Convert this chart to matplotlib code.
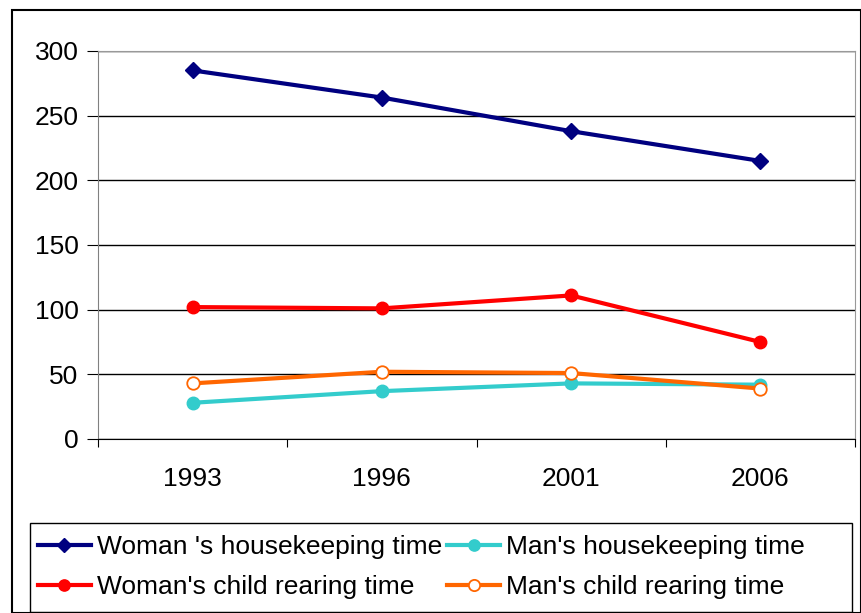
import matplotlib.pyplot as plt
from matplotlib.patches import Rectangle
import numpy as np

plt.rcParams['font.family'] = ['Liberation Sans', 'DejaVu Sans']

years = ['1993', '1996', '2001', '2006']
woman_house = [285, 264, 238, 215]
man_house = [28, 37, 43, 42]
woman_child = [102, 101, 111, 75]
man_child = [43, 52, 51, 39]

W, H = 861, 613
fig = plt.figure(figsize=(W / 100, H / 100), dpi=100)
ax = fig.add_axes([98 / W, 1 - 439 / H, (855 - 98) / W, (439 - 51) / H])

x = np.arange(len(years)) + 0.5
l1, = ax.plot(x, woman_house, color='#000080', lw=3, marker='D', ms=8)
l2, = ax.plot(x, man_house, color='#33CCCC', lw=3, marker='o', ms=9)
l3, = ax.plot(x, woman_child, color='#FF0000', lw=3, marker='o', ms=9)
l4, = ax.plot(x, man_child, color='#FF6600', lw=3, marker='o', ms=9,
              mfc='white', mew=1.3)

ax.set_xlim(0, len(years))
ax.set_ylim(0, 300)
ax.set_yticks(range(0, 301, 50))
ax.set_xticks(np.arange(len(years) + 1))
ax.set_xticklabels([])
ax.set_xticks(x, minor=True)
ax.set_xticklabels(years, minor=True)
ax.tick_params(axis='x', which='minor', length=0, pad=20, labelsize=19)
ax.tick_params(axis='x', which='major', length=6, color='black')
ax.tick_params(axis='y', length=8, labelsize=19, pad=6)
ax.grid(axis='y', color='black', lw=1)
ax.set_axisbelow(True)
for s in ['top', 'right']:
    ax.spines[s].set_color('#999999')
ax.spines['left'].set_color('#808080')
ax.spines['bottom'].set_color('black')

# outer border and legend frame
fig.add_artist(Rectangle((12 / W, 0), (W - 12) / W, 1 - 10 / H, transform=fig.transFigure,
                         fill=False, edgecolor='black', lw=1.5))
fig.add_artist(Rectangle((30 / W, 1 - 612 / H), (852 - 30) / W, (612 - 523) / H,
                         transform=fig.transFigure, fill=False, edgecolor='black', lw=1))

fig.legend([l1, l3, l2, l4],
           ["Woman 's housekeeping time", "Woman's child rearing time",
            "Man's housekeeping time", "Man's child rearing time"],
           ncol=2, frameon=False, loc='upper left', borderpad=0, borderaxespad=0,
           bbox_to_anchor=(38 / W, 1 - 535 / H), fontsize=19,
           handlelength=2.0, handletextpad=0.23, columnspacing=0.2,
           labelspacing=0.6, markerscale=0.9)

fig.savefig('out.png', dpi=100)
